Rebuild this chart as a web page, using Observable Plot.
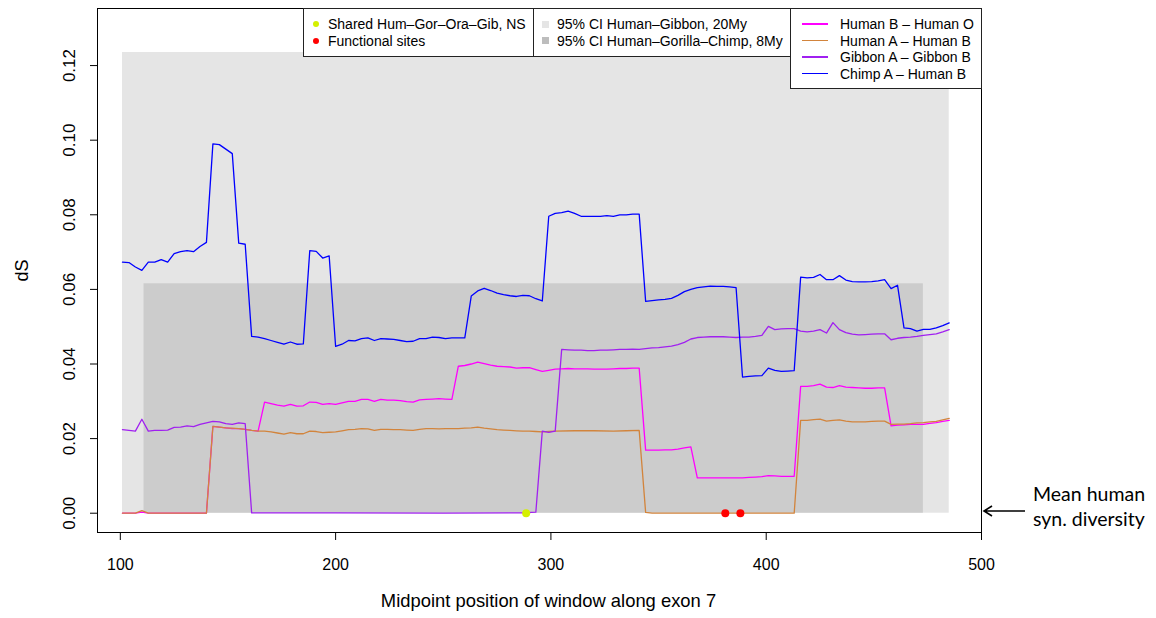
<!DOCTYPE html>
<html><head><meta charset="utf-8">
<script src="https://cdn.jsdelivr.net/npm/d3@7"></script>
<script src="https://cdn.jsdelivr.net/npm/@observablehq/plot@0.6"></script>
<style>
html,body{margin:0;padding:0;background:#fff;overflow:hidden;}
#wrap{position:relative;width:1156px;height:618px;font-family:"Liberation Sans",Arial,sans-serif;}
#wrap svg{position:absolute;left:0;top:0;}
.box{position:absolute;background:#fff;border:1px solid #222;box-sizing:border-box;}
.row{position:absolute;height:16px;line-height:16px;font-size:14px;color:#000;white-space:nowrap;}
.mk{position:absolute;}
.ann{position:absolute;font-family:Lato,"Open Sans",sans-serif;font-size:19.5px;line-height:25px;color:#000;}
</style></head><body><div id="wrap"></div>
<script>
// ---------- data ----------
const xTicks = [100, 200, 300, 400, 500];
const yTicks = [0, 0.02, 0.04, 0.06, 0.08, 0.10, 0.12];

const seriesNames = ["Human B \u2013 Human O", "Human A \u2013 Human B", "Gibbon A \u2013 Gibbon B", "Chimp A \u2013 Human B"];
const seriesColors = ["#ff00ff", "#d2843c", "#a020f0", "#0000ff"];

const humanBHumanO = [[101,0],[107,0],[110,0.0003],[113,0],[140,0],[143,0.0233],[146,0.0231],[149,0.0229],[152,0.0227],[155,0.0227],[158,0.0225],[161,0.0222],[164,0.022],[167,0.0298],[170,0.0294],[173,0.029],[176,0.0287],[179,0.0292],[182,0.0287],[185,0.0288],[188,0.0298],[191,0.0297],[194,0.0292],[197,0.0294],[200,0.0292],[203,0.0296],[206,0.03],[209,0.03],[212,0.0305],[215,0.0305],[218,0.03],[221,0.0305],[224,0.0303],[227,0.0303],[230,0.0302],[233,0.0299],[236,0.0298],[239,0.0304],[242,0.0305],[245,0.0306],[248,0.0307],[251,0.0306],[254,0.0305],[257,0.0394],[260,0.0396],[263,0.04],[266,0.0405],[269,0.0401],[272,0.0397],[275,0.0394],[278,0.0393],[281,0.0392],[284,0.0389],[287,0.039],[290,0.039],[293,0.0385],[296,0.038],[299,0.0383],[302,0.0386],[305,0.0387],[308,0.0388],[311,0.0387],[314,0.0387],[317,0.0387],[320,0.0386],[323,0.0386],[326,0.0386],[329,0.0387],[332,0.0388],[335,0.0388],[338,0.0389],[341,0.0389],[344,0.0169],[347,0.0169],[350,0.0169],[353,0.017],[356,0.017],[359,0.0172],[362,0.0175],[365,0.0178],[368,0.0095],[371,0.0095],[380,0.0095],[389,0.0095],[392,0.0096],[395,0.0097],[398,0.0098],[401,0.0101],[404,0.01],[407,0.0099],[413,0.0099],[416,0.034],[419,0.034],[422,0.0342],[425,0.0346],[428,0.0338],[431,0.0337],[434,0.0342],[437,0.0338],[440,0.0337],[443,0.0336],[446,0.0335],[449,0.0335],[452,0.0336],[455,0.0336],[458,0.0234],[461,0.0236],[464,0.0237],[467,0.0238],[470,0.0238],[473,0.0238],[476,0.0241],[479,0.0243],[482,0.0246],[485,0.0249]];

const humanAHumanB = [[101,0],[107,0],[110,0.0007],[113,0],[140,0],[143,0.0233],[146,0.0231],[149,0.0229],[152,0.0228],[155,0.0227],[158,0.0225],[161,0.0222],[164,0.022],[167,0.022],[170,0.0218],[173,0.0215],[176,0.0212],[179,0.0216],[182,0.0213],[185,0.0213],[188,0.022],[191,0.0219],[194,0.0216],[197,0.0217],[200,0.0218],[203,0.0221],[206,0.0224],[209,0.0225],[212,0.0227],[215,0.0226],[218,0.0222],[221,0.0225],[224,0.0225],[227,0.0224],[230,0.0224],[233,0.0223],[236,0.0222],[239,0.0225],[242,0.0227],[245,0.0227],[248,0.0226],[251,0.0227],[254,0.0227],[257,0.0227],[260,0.0228],[263,0.0229],[266,0.0231],[269,0.0228],[272,0.0226],[275,0.0224],[278,0.0223],[281,0.0222],[284,0.0221],[287,0.022],[290,0.022],[293,0.0219],[296,0.0218],[299,0.0219],[302,0.022],[311,0.0221],[320,0.0221],[329,0.022],[335,0.0221],[341,0.0222],[344,0.0002],[347,0],[413,0],[416,0.0249],[419,0.0249],[422,0.0251],[425,0.0252],[428,0.0247],[431,0.0249],[434,0.025],[437,0.0247],[440,0.0245],[443,0.0245],[446,0.0245],[449,0.0246],[452,0.0247],[455,0.0247],[458,0.0238],[461,0.0239],[464,0.0239],[467,0.024],[470,0.0242],[473,0.0243],[476,0.0245],[479,0.0246],[482,0.025],[485,0.0254]];

const gibbonAGibbonB = [[101,0.0224],[104,0.0222],[107,0.022],[110,0.0252],[113,0.022],[116,0.0222],[119,0.0222],[122,0.0223],[125,0.023],[128,0.0231],[131,0.0234],[134,0.0232],[137,0.0238],[140,0.0242],[143,0.0246],[146,0.0245],[149,0.024],[152,0.0238],[155,0.0242],[158,0.024],[161,0.0001],[200,0.0001],[250,0],[287,0.0001],[293,0.0003],[296,0.022],[299,0.0217],[302,0.022],[305,0.0439],[308,0.0438],[311,0.0437],[314,0.0437],[317,0.0436],[320,0.0436],[323,0.0437],[326,0.0437],[329,0.0438],[332,0.0439],[335,0.0439],[338,0.044],[341,0.0439],[344,0.0441],[347,0.0443],[350,0.0444],[353,0.0446],[356,0.0448],[359,0.0452],[362,0.0458],[365,0.0467],[368,0.0471],[371,0.0472],[374,0.0473],[377,0.0473],[380,0.0473],[383,0.0472],[386,0.0471],[389,0.0472],[392,0.0472],[395,0.0474],[398,0.0477],[401,0.0501],[404,0.0492],[407,0.0494],[410,0.0495],[413,0.0495],[416,0.0488],[419,0.0486],[422,0.0488],[425,0.0492],[428,0.0483],[431,0.0511],[434,0.0492],[437,0.0484],[440,0.048],[443,0.0478],[446,0.0479],[449,0.048],[452,0.0481],[455,0.0481],[458,0.0465],[461,0.0469],[464,0.0471],[467,0.0472],[470,0.0474],[473,0.0477],[476,0.0479],[479,0.0481],[482,0.0486],[485,0.0492]];

const chimpAHumanB = [[101,0.0673],[104,0.0672],[107,0.066],[110,0.0651],[113,0.0673],[116,0.0673],[119,0.068],[122,0.0673],[125,0.0696],[128,0.0701],[131,0.0704],[134,0.0701],[137,0.0715],[140,0.0726],[143,0.099],[146,0.0988],[149,0.0976],[152,0.0964],[155,0.0724],[158,0.0721],[161,0.0474],[164,0.0472],[167,0.0468],[170,0.0463],[173,0.0458],[176,0.0453],[179,0.0459],[182,0.0453],[185,0.0454],[188,0.0704],[191,0.0702],[194,0.0684],[197,0.069],[200,0.0447],[203,0.0453],[206,0.0463],[209,0.0462],[212,0.0468],[215,0.047],[218,0.0463],[221,0.0468],[224,0.0467],[227,0.0466],[230,0.0463],[233,0.046],[236,0.0461],[239,0.0468],[242,0.0468],[245,0.0472],[248,0.0471],[251,0.0468],[254,0.047],[257,0.047],[260,0.047],[263,0.0582],[266,0.0596],[269,0.0603],[272,0.0597],[275,0.059],[278,0.0586],[281,0.0583],[284,0.0581],[287,0.0584],[290,0.0583],[293,0.0575],[296,0.0569],[299,0.0796],[302,0.0804],[305,0.0806],[308,0.081],[311,0.0804],[314,0.0796],[317,0.0796],[320,0.0796],[323,0.0796],[326,0.0798],[329,0.0796],[332,0.08],[335,0.08],[338,0.0802],[341,0.0802],[344,0.0568],[347,0.057],[350,0.0572],[353,0.0573],[356,0.0576],[359,0.0584],[362,0.0594],[365,0.06],[368,0.0605],[371,0.0607],[374,0.0609],[377,0.0608],[380,0.0608],[383,0.0607],[386,0.0605],[389,0.0365],[392,0.0367],[395,0.0368],[398,0.0369],[401,0.0389],[404,0.0383],[407,0.038],[410,0.0381],[413,0.0382],[416,0.0633],[419,0.0631],[422,0.0632],[425,0.064],[428,0.0626],[431,0.0626],[434,0.0637],[437,0.0625],[440,0.0621],[443,0.062],[446,0.062],[449,0.0621],[452,0.0623],[455,0.0626],[458,0.0602],[461,0.0611],[464,0.0497],[467,0.0495],[470,0.0488],[473,0.0493],[476,0.0493],[479,0.0497],[482,0.0503],[485,0.051]];

const ciNames = ["95% CI Human\u2013Gibbon, 20My", "95% CI Human\u2013Gorilla\u2013Chimp, 8My"];
const ciColors = ["#e5e5e5", "#cccccc"];
const ciXStart = [101, 111];
const ciXEnd = [485, 473];
const ciUpper = [0.1235, 0.0615];

const siteNames = ["Shared Hum\u2013Gor\u2013Ora\u2013Gib, NS", "Functional sites"];
const siteColors = ["#d4f000", "#ff0000"];
const sharedSites = [288.5];
const functionalSites = [381, 388];

const xLabel = "Midpoint position of window along exon 7";
const yLabel = "dS";
const annotation = ["Mean human", "syn. diversity"];

// ---------- build ----------
const seriesData = [humanBHumanO, humanAHumanB, gibbonAGibbonB, chimpAHumanB];
const ciRects = ciNames.map((n, i) => ({name: n, x1: ciXStart[i], x2: ciXEnd[i], y1: 0, y2: ciUpper[i], fill: ciColors[i]}));
const sites = [
  ...sharedSites.map(x => ({x, y: 0, c: siteColors[0]})),
  ...functionalSites.map(x => ({x, y: 0, c: siteColors[1]}))
];

const ML = 97, MR = 175, MT = 8, MB = 86, W = 1156, H = 618;

const chart = Plot.plot({
  width: W, height: H,
  marginLeft: ML, marginRight: MR, marginTop: MT, marginBottom: MB,
  x: {domain: [89.4, 500]},
  y: {domain: [-0.00517, 0.1353]},
  style: {fontFamily: "'Liberation Sans', Arial, sans-serif", fontSize: "14px", background: "transparent", overflow: "visible", color: "#000"},
  marks: [
    Plot.rect(ciRects, {x1: "x1", x2: "x2", y1: "y1", y2: "y2", fill: "fill"}),
    ...seriesData.map((s, i) => Plot.line(s, {x: d => d[0], y: d => d[1], stroke: seriesColors[i], strokeWidth: 1.3})),
    Plot.dot(sites, {x: "x", y: "y", fill: "c", r: 4, stroke: null}),
    Plot.frame({stroke: "#000", strokeWidth: 1}),
    Plot.axisX({ticks: xTicks, tickSize: 8, tickPadding: 18, tickFormat: d3.format("d"), label: null, fontSize: 16}),
    Plot.text([xLabel], {text: d => d, frameAnchor: "bottom", dy: 74, dx: 9, fontSize: 18.4, fill: "#000"}),
    Plot.axisY({ticks: yTicks, tickSize: 7, tickPadding: 16, tickRotate: -90, tickFormat: d3.format(".2f"), label: null, fontSize: 17}),
    Plot.axisY({ticks: [], label: yLabel, labelAnchor: "center", labelArrow: "none", labelOffset: 82, fontSize: 18})
  ]
});
const wrap = document.getElementById("wrap");
wrap.appendChild(chart);

// ---------- legends (overlay) ----------
function box(l, t, r, b) {
  const d = document.createElement("div");
  d.className = "box";
  Object.assign(d.style, {left: l + "px", top: t + "px", width: (r - l) + "px", height: (b - t) + "px"});
  wrap.appendChild(d);
}
function row(x, cy, text) {
  const d = document.createElement("div");
  d.className = "row";
  d.textContent = text;
  Object.assign(d.style, {left: x + "px", top: (cy - 8) + "px"});
  wrap.appendChild(d);
}
function mark(x, cy, w, h, color, round) {
  const d = document.createElement("div");
  d.className = "mk";
  Object.assign(d.style, {left: (x - w / 2) + "px", top: (cy - h / 2) + "px", width: w + "px", height: h + "px", background: color, borderRadius: round ? "50%" : "0"});
  wrap.appendChild(d);
}
const rowY = [24, 40.5, 57, 73.5];
box(303, 8, 534, 57);
siteNames.forEach((n, i) => { mark(315.5, rowY[i], 6, 6, siteColors[i], true); row(328, rowY[i], n); });
box(533, 8, 791, 57);
ciNames.forEach((n, i) => { mark(545, rowY[i], 7, 7, i === 0 ? "#e5e5e5" : "#bdbdbd", false); row(557, rowY[i], n); });
box(790, 8, 982, 89);
seriesNames.forEach((n, i) => { mark(815, rowY[i], 26, 1.3, seriesColors[i], false); row(840, rowY[i], n); });

// annotation with arrow
const ns = "http://www.w3.org/2000/svg";
const arr = document.createElementNS(ns, "svg");
arr.setAttribute("width", 60); arr.setAttribute("height", 20);
Object.assign(arr.style, {position: "absolute", left: "978px", top: "501px"});
arr.innerHTML = '<path d="M47 10 H6 M14 5 L6 10 L14 15" fill="none" stroke="#000" stroke-width="1.6"/>';
wrap.appendChild(arr);
const ann = document.createElement("div");
ann.className = "ann";
ann.innerHTML = annotation.join("<br>");
Object.assign(ann.style, {left: "1033px", top: "481px"});
wrap.appendChild(ann);
</script></body></html>
